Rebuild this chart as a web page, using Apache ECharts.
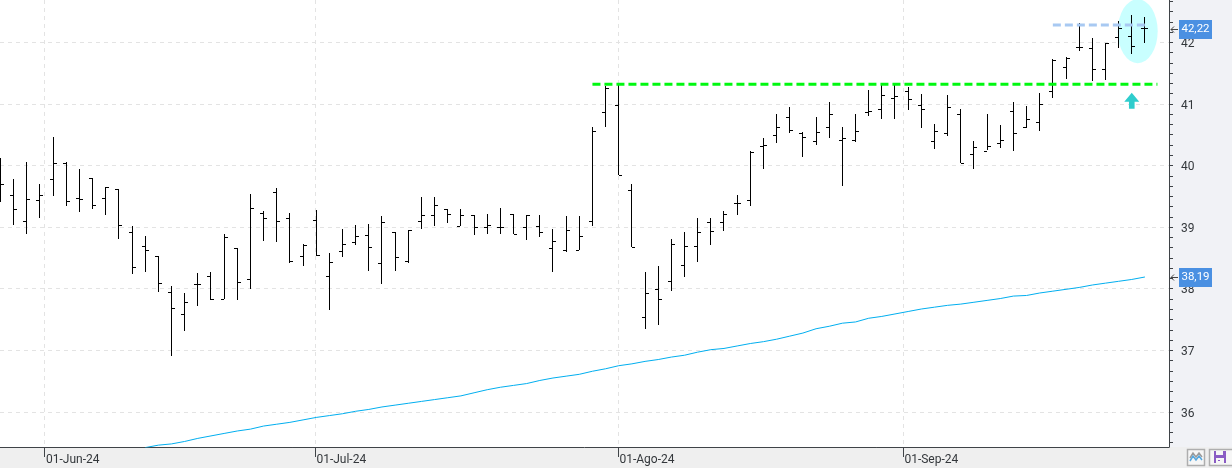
<!DOCTYPE html>
<html><head><meta charset="utf-8">
<style>html,body{margin:0;padding:0;background:#f1f2f6}#c{width:1232px;height:468px}</style>
<script src="https://cdn.jsdelivr.net/npm/echarts@6/dist/echarts.min.js"></script>
</head><body><div id="c"></div>
<script>
const xTickIndex = [3.345, 23.9, 46.94, 68.6];
const xTickLabels = ['01-Jun-24', '01-Jul-24', '01-Ago-24', '01-Sep-24'];
const yTicks = [36, 37, 38, 39, 40, 41, 42];
const yMinorTicks = [35.5,35.667,35.833,36,36.167,36.333,36.5,36.667,36.833,37,37.167,37.333,37.5,37.667,37.833,38,38.167,38.333,38.5,38.667,38.833,39,39.167,39.333,39.5,39.667,39.833,40,40.167,40.333,40.5,40.667,40.833,41,41.167,41.333,41.5,41.667,41.833,42,42.167,42.333,42.5,42.667];
const lastPrices = [42.22, 38.19];
const lastPriceLabels = ['42,22', '38,19'];
const resistance = 41.32;
const recentHigh = 42.28;

const open = [39.55,39.52,39.09,39.44,39.78,40.04,39.47,39.79,39.47,39.61,38.92,38.69,38.53,37.94,37.58,38.07,38.19,37.82,38.66,38.15,39.22,39.56,39.14,38.53,39.11,38.19,38.61,38.75,38.87,38.41,38.92,38.44,39.09,39.19,39.29,39.01,39.19,39.00,39.00,39.21,39.00,39.01,38.66,38.62,38.62,39.09,40.86,40.98,39.60,37.54,37.99,38.12,38.38,38.69,39.08,39.08,39.39,39.44,40.31,40.49,40.78,40.52,40.39,40.62,40.41,40.41,40.86,40.91,41.09,41.20,40.98,40.39,40.52,40.83,40.18,40.23,40.36,40.88,40.62,40.70,41.20,41.59,41.92,41.90,41.56,42.08,42.10,42.22];
const high = [40.12,39.78,40.05,39.69,40.46,40.05,39.94,39.79,39.65,39.61,39.01,38.85,38.53,38.04,37.93,38.25,38.27,38.88,38.66,39.53,39.26,39.63,39.22,38.71,39.27,38.57,38.96,39.03,39.05,39.18,38.92,38.95,39.48,39.48,39.29,39.29,39.19,39.21,39.31,39.21,39.19,39.19,38.96,39.18,39.18,40.62,41.29,41.30,39.69,38.27,38.36,38.80,38.92,39.14,39.14,39.26,39.52,40.23,40.44,40.82,40.94,40.54,40.78,41.03,40.62,40.82,41.22,41.30,41.30,41.27,41.16,40.67,41.14,40.91,40.39,40.82,40.65,41.03,40.96,41.17,41.72,41.76,42.31,42.06,41.98,42.34,42.44,42.41];
const low = [39.41,39.03,38.88,39.14,39.51,39.33,39.25,39.28,39.20,38.80,38.23,38.26,37.94,36.91,37.32,37.72,37.82,37.82,37.81,37.98,38.78,38.75,38.41,38.36,38.52,37.64,38.50,38.70,38.28,38.08,38.28,38.41,38.96,39.01,39.07,39.01,38.86,38.88,38.88,38.88,38.78,38.83,38.26,38.59,38.62,39.01,40.63,39.84,38.66,37.34,37.41,37.96,38.19,38.42,38.70,38.93,39.19,39.33,39.93,40.35,40.52,40.13,40.32,40.45,39.67,40.37,40.80,40.74,40.74,40.90,40.61,40.27,40.47,40.04,39.93,40.23,40.27,40.24,40.60,40.55,41.08,41.40,41.85,41.36,41.38,41.90,41.81,41.98];
const close = [39.69,39.29,39.45,39.52,40.04,39.42,39.45,39.35,39.65,39.03,38.35,38.62,38.09,37.68,37.78,38.07,37.82,38.83,38.10,39.31,39.14,39.09,38.44,38.70,38.54,38.43,38.72,38.85,38.67,39.08,38.51,38.95,39.19,39.35,39.21,39.19,39.00,39.03,39.00,38.88,39.19,38.92,38.77,38.95,38.85,40.56,41.25,39.84,38.67,37.93,37.83,38.72,38.69,38.92,38.93,39.21,39.39,40.21,40.33,40.62,40.57,40.46,40.54,40.83,40.44,40.56,40.88,41.14,41.12,41.07,40.91,40.56,40.94,40.04,40.30,40.31,40.41,40.52,40.75,40.99,41.71,41.74,41.92,41.56,41.98,42.23,41.94,42.22];
const maStart = 11;
const ma = [35.42,35.46,35.48,35.52,35.57,35.61,35.65,35.69,35.72,35.77,35.80,35.83,35.87,35.91,35.94,35.97,36.01,36.04,36.08,36.11,36.14,36.17,36.20,36.23,36.26,36.31,36.36,36.40,36.43,36.46,36.51,36.55,36.58,36.61,36.66,36.70,36.75,36.78,36.82,36.85,36.89,36.92,36.97,37.01,37.03,37.07,37.11,37.14,37.18,37.23,37.28,37.35,37.39,37.44,37.46,37.52,37.55,37.59,37.63,37.67,37.70,37.73,37.75,37.78,37.81,37.84,37.88,37.89,37.93,37.96,37.99,38.02,38.06,38.09,38.12,38.15,38.19];

const chart = echarts.init(document.getElementById('c'), null, {renderer:'canvas'});
const ink = '#3f4347', grid = '#e3e3e3', FONT = 'Roboto';
const XMIN = -0.038, XMAX = 88.83, YMIN = 35.43, YMAX = 42.687;

function renderBar(params, api) {
  const i = api.value(0);
  const o = api.coord([i, api.value(1)]), h = api.coord([i, api.value(2)]),
        l = api.coord([i, api.value(3)]), c = api.coord([i, api.value(4)]);
  const x = Math.floor(o[0]);
  const st = {fill:'#000'};
  return {type:'group', children:[
    {type:'rect', shape:{x:x, y:Math.floor(h[1]), width:1, height:Math.round(l[1]-h[1])}, style:st},
    {type:'rect', shape:{x:x-3, y:Math.floor(o[1]), width:3, height:1}, style:st},
    {type:'rect', shape:{x:x+1, y:Math.floor(c[1]), width:3, height:1}, style:st}
  ]};
}
function renderBadge(params, api) {
  const p = api.coord([XMAX, api.value(1)]);
  const x = p[0], y = Math.round(p[1]);
  return {type:'group', children:[
    {type:'rect', shape:{x:x+10, y:y-9, width:33, height:19}, style:{fill:'#4a90e2'}},
    {type:'text', style:{text:lastPriceLabels[params.dataIndex], x:x+26.5, y:y+0.5, align:'center', verticalAlign:'middle', fill:'#fff', font:'11.5px '+FONT}},
    {type:'line', shape:{x1:x+2, y1:y+0.5, x2:x+9, y2:y+0.5}, style:{stroke:'#444', lineWidth:1}},
    {type:'polyline', shape:{points:[[x+5,y-2.5],[x+2,y+0.5],[x+5,y+3.5]]}, style:{stroke:'#444', lineWidth:1, fill:null}}
  ]};
}
function renderYLabel(params, api) {
  const p = api.coord([XMAX, api.value(1)]);
  return {type:'text', style:{text:String(api.value(1)), x:p[0]+12, y:p[1]+1.8, align:'left', verticalAlign:'middle', fill:'#33373b', font:'12px '+FONT}};
}
function renderXLabel(params, api) {
  const p = api.coord([api.value(0), YMIN]);
  return {type:'text', style:{text:xTickLabels[params.dataIndex], x:p[0]+1.5, y:p[1]+13, align:'left', verticalAlign:'middle', fill:'#33373b', font:'12px '+FONT}};
}

chart.setOption({
  animation:false,
  backgroundColor:'#f1f2f6',
  grid:{left:0, right:63, top:0, bottom:21, show:true, backgroundColor:'#fff', borderWidth:0, containLabel:false},
  xAxis:{type:'value', min:XMIN, max:XMAX, position:'bottom',
    axisLine:{show:true, onZero:false, lineStyle:{color:ink, width:1}},
    axisTick:{show:true, length:10, lineStyle:{color:ink, width:1}, customValues:xTickIndex},
    axisLabel:{show:false, customValues:xTickIndex},
    splitLine:{show:true, lineStyle:{color:grid, type:[4,4], width:1}}},
  yAxis:[
    {type:'value', min:YMIN, max:YMAX, position:'right',
     axisLine:{show:true, onZero:false, lineStyle:{color:ink, width:1}},
     axisTick:{show:true, length:4, customValues:yMinorTicks, lineStyle:{color:ink}},
     axisLabel:{show:false},
     splitLine:{show:false}},
    {type:'value', min:YMIN, max:YMAX, position:'left',
     axisLine:{show:false},
     axisTick:{show:false, customValues:yTicks},
     axisLabel:{show:false},
     splitLine:{show:true, lineStyle:{color:grid, type:[4,4], width:1}}}
  ],
  graphic:[
    {type:'rect', z:-1, shape:{x:0,y:447,width:1232,height:21}, style:{fill:'#efefef'}, silent:true},
    {type:'rect', z:5, shape:{x:1187.5,y:449.5,width:17,height:16}, style:{fill:'#f6f6f6',stroke:'#aeaeae',lineWidth:1.5}},
    {type:'polyline', z:6, shape:{points:[[1190,458],[1193,453],[1196,457],[1199,453],[1202,457]]}, style:{stroke:'#9a9a9a',lineWidth:1.5,fill:null}},
    {type:'polyline', z:6, shape:{points:[[1190,461],[1193,456],[1196,460],[1199,456],[1202,460]]}, style:{stroke:'#55a7de',lineWidth:1.5,fill:null}},
    {type:'rect', z:5, shape:{x:1209.5,y:449.5,width:30,height:16}, style:{fill:'#f6f6f6',stroke:'#aeaeae',lineWidth:1.5}},
    {type:'rect', z:6, shape:{x:1214,y:451,width:12,height:12}, style:{fill:'#8a5cc4'}},
    {type:'rect', z:7, shape:{x:1216,y:451,width:7,height:4}, style:{fill:'#f6f6f6'}},
    {type:'rect', z:7, shape:{x:1216,y:458,width:8,height:5}, style:{fill:'#f6f6f6'}},
    {type:'rect', z:8, shape:{x:1218,y:460,width:2,height:1}, style:{fill:'#8a5cc4'}}
  ],
  series:[
    {type:'scatter', z:1, symbol:'circle', symbolSize:[40,64], silent:true, data:[[86.45,42.18]], itemStyle:{color:'#c9ffff',opacity:1}},
    {type:'line', z:2, showSymbol:false, silent:true, data:ma.map((v,i)=>[i+maStart,v]), lineStyle:{color:'#00aeef',width:1}},
    {type:'custom', z:3, silent:true, renderItem:renderBar, encode:{x:0,y:[1,2,3,4]}, data:open.map((o,i)=>[i,o,high[i],low[i],close[i]])},
    {type:'line', z:4, showSymbol:false, silent:true, data:[[45,resistance],[87.95,resistance]], lineStyle:{color:'#00f810',width:3,type:[8,4]}},
    {type:'line', z:4, showSymbol:false, silent:true, data:[[80,recentHigh],[87,recentHigh]], lineStyle:{color:'#a8c9f2',width:3,type:[8,4]}},
    {type:'scatter', z:4, silent:true, symbol:'path://M8 0L16 9H11V16H5V9H0Z', symbolSize:[15,16], data:[[86,41.05]], itemStyle:{color:'#2fcdcd',opacity:1}},
    {type:'custom', z:5, clip:false, silent:true, renderItem:renderYLabel, encode:{y:1}, data:yTicks.map(v=>[XMAX,v])},
    {type:'custom', z:5, clip:false, silent:true, renderItem:renderXLabel, encode:{x:0}, data:xTickIndex.map(v=>[v,YMIN])},
    {type:'custom', z:6, clip:false, silent:true, renderItem:renderBadge, encode:{y:1}, data:lastPrices.map(v=>[XMAX,v])}
  ]
});
</script></body></html>
